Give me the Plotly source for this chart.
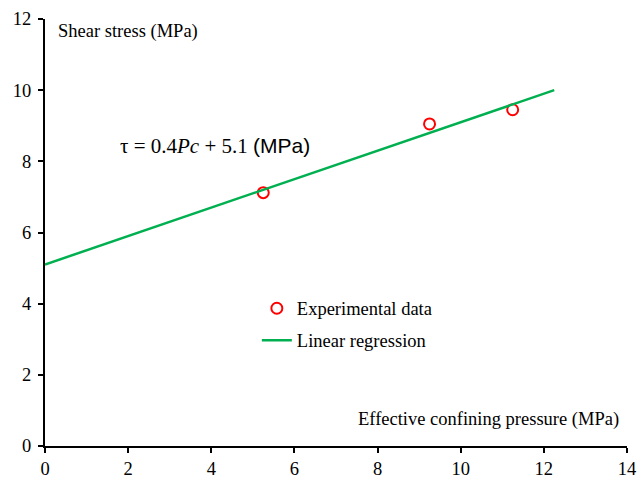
import plotly.graph_objects as go

# Data
exp_x = [5.25, 9.25, 11.25]
exp_y = [7.12, 9.05, 9.45]
reg_x = [0.0, 12.25]
reg_y = [5.1, 10.0]

x_ticks = [0, 2, 4, 6, 8, 10, 12, 14]
y_ticks = [0, 2, 4, 6, 8, 10, 12]

SERIF = "Liberation Serif, Times New Roman, serif"
FS = 18.5

fig = go.Figure()
fig.add_trace(go.Scatter(
    x=exp_x, y=exp_y, mode="markers", name="Experimental data",
    marker=dict(symbol="circle-open", size=11, color="#FF0000", line=dict(width=2, color="#FF0000")),
    legend="legend",
))
fig.add_trace(go.Scatter(
    x=reg_x, y=reg_y, mode="lines", name="Linear regression",
    line=dict(color="#00B050", width=2.5),
    legend="legend2",
))

axis_common = dict(
    showgrid=False, zeroline=False, showline=True, linecolor="black", linewidth=2,
    ticks="outside", ticklen=5, tickwidth=2, tickcolor="black", automargin=False,
    tickfont=dict(family=SERIF, size=FS, color="black"),
)

fig.update_layout(
    width=644, height=478,
    margin=dict(l=45, r=17, t=19, b=32, autoexpand=False),
    plot_bgcolor="white", paper_bgcolor="white",
    xaxis=dict(range=[0, 14], tickvals=x_ticks, **axis_common),
    yaxis=dict(range=[0, 12], tickvals=y_ticks, ticklabelstandoff=3, **axis_common),
    showlegend=True,
    legend=dict(x=0.364, y=0.366, xanchor="left", yanchor="top",
                font=dict(family=SERIF, size=FS, color="black"), bgcolor="rgba(0,0,0,0)"),
    legend2=dict(x=0.364, y=0.291, xanchor="left", yanchor="top",
                 font=dict(family=SERIF, size=FS, color="black"), bgcolor="rgba(0,0,0,0)"),
    annotations=[
        dict(text="Shear stress (MPa)", xref="paper", yref="paper", x=0.019, y=0.971,
             xanchor="left", yanchor="middle", showarrow=False,
             font=dict(family=SERIF, size=FS, color="black")),
        dict(text="Effective confining pressure (MPa)", xref="paper", yref="paper", x=0.99, y=0.061,
             xanchor="right", yanchor="middle", showarrow=False,
             font=dict(family=SERIF, size=FS, color="black")),
        dict(text="τ = 0.4<i>Pc</i> + 5.1 <span style='font-family:Liberation Sans, Arial, sans-serif'>(MPa)</span>",
             xref="paper", yref="paper", x=0.125, y=0.703,
             xanchor="left", yanchor="middle", showarrow=False,
             font=dict(family=SERIF, size=21, color="black")),
    ],
)

fig.write_html("out.html")
